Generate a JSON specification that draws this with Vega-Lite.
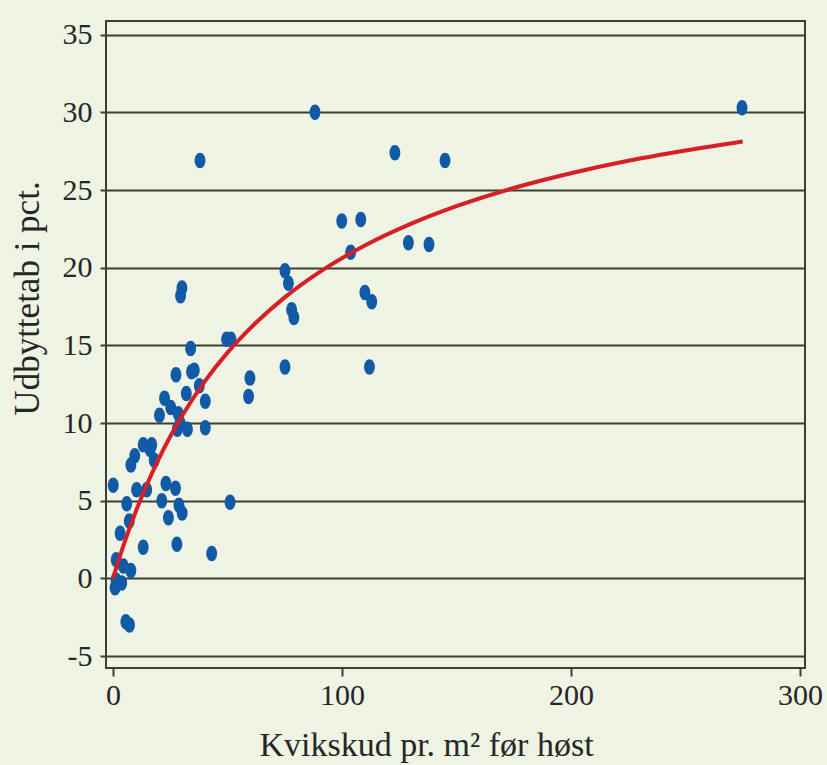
{
  "$schema": "https://vega.github.io/schema/vega-lite/v6.json",
  "width": 699,
  "height": 647,
  "autosize": {"type": "none"},
  "padding": {"left": 106, "top": 21, "right": 22, "bottom": 97},
  "background": "#eff3e3",
  "config": {
    "view": {"stroke": "#3a4034", "strokeWidth": 2, "fill": "#eff3e3"},
    "axis": {
      "labelFont": "Liberation Serif",
      "titleFont": "Liberation Serif",
      "labelColor": "#262626",
      "titleColor": "#262626",
      "tickColor": "#3a4034",
      "gridColor": "#3a4034",
      "domain": false,
      "titleFontWeight": "normal"
    }
  },
  "datasets": {
    "pts": [
      {"x": 274.7, "y": 30.3}, {"x": 88.2, "y": 30.0}, {"x": 38.0, "y": 26.9},
      {"x": 123.1, "y": 27.4}, {"x": 145.0, "y": 26.9}, {"x": 99.9, "y": 23.0},
      {"x": 108.2, "y": 23.1}, {"x": 103.8, "y": 21.0}, {"x": 129.0, "y": 21.6},
      {"x": 138.0, "y": 21.5}, {"x": 110.0, "y": 18.4}, {"x": 113.0, "y": 17.8},
      {"x": 112.0, "y": 13.6}, {"x": 75.1, "y": 19.8}, {"x": 76.6, "y": 19.0},
      {"x": 78.0, "y": 17.3}, {"x": 79.0, "y": 16.8}, {"x": 75.1, "y": 13.6},
      {"x": 59.8, "y": 12.9}, {"x": 59.2, "y": 11.7}, {"x": 49.6, "y": 15.4},
      {"x": 51.5, "y": 15.4}, {"x": 51.1, "y": 4.9}, {"x": 30.1, "y": 18.7},
      {"x": 29.5, "y": 18.2}, {"x": 33.9, "y": 14.8}, {"x": 27.5, "y": 13.1},
      {"x": 34.3, "y": 13.3}, {"x": 35.5, "y": 13.4}, {"x": 37.7, "y": 12.4},
      {"x": 32.0, "y": 11.9}, {"x": 40.3, "y": 11.4}, {"x": 22.5, "y": 11.6},
      {"x": 25.2, "y": 11.0}, {"x": 20.3, "y": 10.5}, {"x": 28.5, "y": 10.6},
      {"x": 29.3, "y": 10.0}, {"x": 32.5, "y": 9.6}, {"x": 28.1, "y": 9.6},
      {"x": 40.3, "y": 9.7}, {"x": 13.2, "y": 8.6}, {"x": 16.9, "y": 8.6},
      {"x": 16.2, "y": 8.3}, {"x": 9.5, "y": 7.9}, {"x": 7.8, "y": 7.3},
      {"x": 18.0, "y": 7.6}, {"x": 0.1, "y": 6.0}, {"x": 10.3, "y": 5.7},
      {"x": 14.7, "y": 5.7}, {"x": 23.1, "y": 6.1}, {"x": 27.3, "y": 5.8},
      {"x": 21.3, "y": 5.0}, {"x": 6.0, "y": 4.8}, {"x": 28.8, "y": 4.7},
      {"x": 30.2, "y": 4.2}, {"x": 24.2, "y": 3.9}, {"x": 7.1, "y": 3.7},
      {"x": 3.1, "y": 2.9}, {"x": 13.2, "y": 2.0}, {"x": 27.9, "y": 2.2},
      {"x": 43.1, "y": 1.6}, {"x": 1.4, "y": 1.2}, {"x": 4.5, "y": 0.8},
      {"x": 7.8, "y": 0.5}, {"x": 0.9, "y": -0.6}, {"x": 3.8, "y": -0.3},
      {"x": 1.3, "y": -0.1}, {"x": 5.6, "y": -2.8}, {"x": 7.2, "y": -3.0}
    ],
    "curve": [
      {"x": 0, "y": 0}, {"x": 2, "y": 0.96}, {"x": 5, "y": 2.3},
      {"x": 10, "y": 4.32}, {"x": 15, "y": 6.11}, {"x": 20, "y": 7.7},
      {"x": 25, "y": 9.13}, {"x": 30, "y": 10.42}, {"x": 40, "y": 12.66},
      {"x": 50, "y": 14.53}, {"x": 60, "y": 16.11}, {"x": 75, "y": 18.09},
      {"x": 90, "y": 19.7}, {"x": 110, "y": 21.43}, {"x": 130, "y": 22.82},
      {"x": 150, "y": 23.96}, {"x": 175, "y": 25.13}, {"x": 200, "y": 26.08},
      {"x": 225, "y": 26.88}, {"x": 250, "y": 27.54}, {"x": 275, "y": 28.12}
    ]
  },
  "layer": [
    {
      "data": {"name": "pts"},
      "mark": {
        "type": "point",
        "shape": "M0,-1A0.7,1,0,1,1,0,1A0.7,1,0,1,1,0,-1Z",
        "filled": true,
        "size": 240,
        "color": "#105aa6",
        "opacity": 1
      },
      "encoding": {
        "x": {
          "field": "x",
          "type": "quantitative",
          "scale": {"domain": [-3.06, 302.2], "nice": false, "zero": false},
          "axis": {
            "values": [0, 100, 200, 300],
            "grid": false,
            "tickSize": 8,
            "tickWidth": 2,
            "labelFontSize": 30,
            "labelPadding": 4,
            "labelExpr": "'' + datum.value",
            "title": "Kvikskud pr. m² før høst",
            "titleFontSize": 34,
            "titleX": 320,
            "titleY": 87,
            "titleAlign": "center",
            "titleBaseline": "alphabetic"
          }
        },
        "y": {
          "field": "y",
          "type": "quantitative",
          "scale": {"domain": [-5.77, 35.88], "nice": false, "zero": false},
          "axis": {
            "values": [-5, 0, 5, 10, 15, 20, 25, 30, 35],
            "grid": true,
            "gridWidth": 2,
            "tickSize": 6,
            "tickWidth": 2,
            "labelFontSize": 30,
            "labelPadding": 8,
            "labelExpr": "'' + datum.value",
            "title": "Udbyttetab i pct.",
            "titleFontSize": 35,
            "titleAngle": -90,
            "titleX": -68,
            "titleY": 277,
            "titleAlign": "center",
            "titleBaseline": "alphabetic"
          }
        }
      }
    },
    {
      "data": {"name": "curve"},
      "mark": {"type": "line", "color": "#d61f26", "strokeWidth": 4, "interpolate": "monotone"},
      "encoding": {
        "x": {"field": "x", "type": "quantitative"},
        "y": {"field": "y", "type": "quantitative"}
      }
    }
  ]
}
